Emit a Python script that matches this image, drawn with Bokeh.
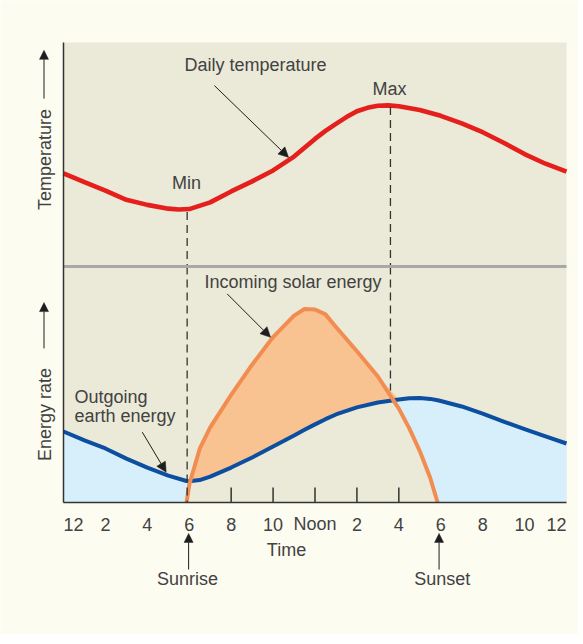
import numpy as np
from bokeh.plotting import figure
from bokeh.models import Range1d, Arrow, NormalHead, Label
from bokeh.core.properties import value
from bokeh.embed import file_html
from bokeh.resources import INLINE

# ---------------- data ----------------
temp_hours = [0, 1, 2, 3, 4, 5, 5.5, 6, 7, 8, 9, 10, 11, 11.5, 12, 12.5, 13, 13.5, 14,
              14.5, 15, 15.5, 16, 17, 18, 19, 20, 21, 22, 23, 24]
temperature = [58.6, 56.5, 54.5, 52.3, 51.1, 50.2, 50.0, 50.1, 51.7, 54.3, 56.7, 59.3,
               62.6, 64.7, 66.8, 68.7, 70.4, 72.0, 73.4, 74.2, 74.7, 74.8, 74.6, 73.7,
               72.3, 70.5, 68.4, 65.9, 63.2, 60.9, 59.0]

energy_hours = [0, 1, 2, 3, 4, 5, 5.87, 6, 6.5, 7, 8, 9, 10, 11, 11.5, 12, 12.5, 13, 14,
                15, 16, 16.5, 17, 17.5, 17.85, 18, 19, 20, 21, 22, 23, 24]
outgoing = [30.1, 26.3, 22.9, 18.6, 14.8, 11.4, 9.1, 9.0, 9.5, 11.0, 14.8, 19.1, 23.7,
            28.4, 30.8, 33.1, 35.3, 37.3, 40.3, 42.4, 43.6, 44.2, 44.3, 43.9, 43.3, 43.0,
            40.7, 37.7, 34.3, 31.1, 28.0, 25.0]

solar_hours = [5.87, 6, 6.5, 7, 8, 9, 10, 11, 11.5, 12, 12.5, 13, 14, 15, 16, 16.5, 17,
               17.5, 17.85]
incoming = [0, 7.5, 22.8, 31.8, 45.6, 58.4, 70.1, 79.2, 82.0, 81.8, 79.7, 74.4, 64.1,
            53.4, 39.8, 31.4, 21.8, 10.4, 0]

tick_hours = [0, 2, 4, 6, 8, 10, 12, 14, 16, 18, 20, 22, 24]
tick_labels = ["12", "2", "4", "6", "8", "10", "Noon", "2", "4", "6", "8", "10", "12"]
inner_tick_hours = [8, 10, 12, 14, 16]

min_hour, min_temp = 5.9, 49.4
max_hour, max_temp, max_energy_end = 15.6, 74.4, 47.5
sunrise_hour, sunset_hour = 5.97, 17.92

# ---------------- style / geometry ----------------
BEIGE = "#ebe9d7"
CREAM = "#fdfcf1"
LIGHTBLUE = "#d7eefb"
ORANGE_FILL = "#f9c391"
ORANGE = "#f28d52"
BLUE = "#0c4fa0"
RED = "#e5201c"
INK = "#424242"
AXIS = "#333333"
FONT = "Liberation Sans"
FS = "18px"

HOURS = 24
ENERGY_TOP = 194.9        # top of the plotting panel (energy units)
PANEL_SPLIT = 100         # energy-panel top (separator)
TEMP_AT_SPLIT = 36.4      # same height expressed in temperature units

# whole canvas is the frame; ranges extend beyond the panel to hold titles
p = figure(width=578, height=634,
           x_range=Range1d(-3.006, 24.573), y_range=Range1d(-55.93, 212.71),
           output_backend="svg", toolbar_location=None,
           x_axis_location=None, y_axis_location=None,
           min_border=0, min_border_left=0, min_border_right=0,
           min_border_top=0, min_border_bottom=0,
           background_fill_color=CREAM, border_fill_color=CREAM)
p.extra_y_ranges = {"temp": Range1d(-51.19, 99.76)}
p.grid.visible = False
p.outline_line_color = None

# panel background
p.quad(left=0, right=HOURS, bottom=0, top=ENERGY_TOP, fill_color=BEIGE, line_color=None)

# ---------------- energy panel ----------------
blue_at = dict(zip(energy_hours, outgoing))
blue_day = np.array([blue_at[h] for h in solar_hours])
solar_arr = np.array(incoming)

p.varea(x=energy_hours, y1=0, y2=outgoing, fill_color=LIGHTBLUE)
p.varea(x=solar_hours, y1=0, y2=incoming, fill_color=BEIGE)
p.varea(x=solar_hours, y1=blue_day, y2=np.maximum(solar_arr, blue_day), fill_color=ORANGE_FILL)
p.line(energy_hours, outgoing, line_color=BLUE, line_width=4, line_join="round")
p.line(solar_hours, incoming, line_color=ORANGE, line_width=4, line_join="round")

# ---------------- temperature panel ----------------
p.line(temp_hours, temperature, line_color=RED, line_width=4.6, line_join="round",
       y_range_name="temp")

# dashed guides
p.segment(x0=[min_hour, max_hour], y0=[min_temp, max_temp],
          x1=[min_hour, max_hour], y1=[TEMP_AT_SPLIT, TEMP_AT_SPLIT],
          y_range_name="temp", line_color=AXIS, line_width=1.3, line_dash="8 5")
p.segment(x0=[min_hour, max_hour], y0=[PANEL_SPLIT, PANEL_SPLIT],
          x1=[min_hour, max_hour], y1=[0, max_energy_end],
          line_color=AXIS, line_width=1.3, line_dash="8 5")

# separator
p.segment(x0=0, y0=PANEL_SPLIT, x1=HOURS, y1=PANEL_SPLIT, line_color="#a6a8aa", line_width=3)

# axis lines and inner ticks
p.segment(x0=0, y0=0, x1=0, y1=ENERGY_TOP, line_color=AXIS, line_width=1.5)
p.segment(x0=0, y0=0, x1=HOURS, y1=0, line_color=AXIS, line_width=1.5)
p.segment(x0=inner_tick_hours, y0=0, x1=inner_tick_hours, y1=6.4,
          line_color=AXIS, line_width=1.5)

# tick labels (end labels kept inside the panel edges)
TICK_Y = -9.3
def tick_text(xs, labs, align):
    p.text(x=xs, y=[TICK_Y] * len(xs), text=labs, text_align=align, text_baseline="middle",
           text_font=value(FONT), text_font_size=FS, text_color=INK)
tick_text(tick_hours[:1], tick_labels[:1], "left")
tick_text(tick_hours[1:-1], tick_labels[1:-1], "center")
tick_text(tick_hours[-1:], tick_labels[-1:], "right")

# ---------------- annotations ----------------
def head(size=10):
    return NormalHead(size=size, fill_color="#1e1e1e", line_color="#1e1e1e", line_width=0.5)

def label(x, y, text, rng="default", align="center", baseline="middle", angle=0):
    p.add_layout(Label(x=x, y=y, text=text, y_range_name=rng, text_align=align,
                       text_baseline=baseline, text_font=FONT, text_font_size=FS,
                       text_color=INK, angle=angle, angle_units="deg"))

def arrow(x0, y0, x1, y1, rng="default", size=10):
    p.add_layout(Arrow(x_start=x0, y_start=y0, x_end=x1, y_end=y1, y_range_name=rng,
                       end=head(size), line_color="#1e1e1e", line_width=1))

label(9.16, 84.3, "Daily temperature", rng="temp")
arrow(7.2, 79.5, 10.74, 62.4, rng="temp")
label(15.55, 78.8, "Max", rng="temp")
label(5.87, 56.2, "Min", rng="temp")

label(10.95, 93.6, "Incoming solar energy")
arrow(7.81, 88.4, 9.88, 70.0)
label(0.52, 44.5, "Outgoing", align="left")
label(0.52, 36.6, "earth energy", align="left")
arrow(3.76, 29.8, 4.9, 12.8)

# y-axis titles with arrows
label(-0.86, 61.9, "Temperature", rng="temp", angle=90)
arrow(-0.93, 76.4, -0.93, 87.9, rng="temp", size=9)
label(-0.86, 37.3, "Energy rate", angle=90)
arrow(-0.93, 65.3, -0.93, 84.7, size=9)

# x title, sunrise / sunset
label(10.64, -20.3, "Time")
label(sunrise_hour - 0.05, -32.6, "Sunrise")
arrow(sunrise_hour, -28.4, sunrise_hour, -13.1, size=9)
label(sunset_hour + 0.15, -32.6, "Sunset")
arrow(sunset_hour, -28.4, sunset_hour, -13.1, size=9)

open("out.html", "w").write(file_html(p, INLINE))
